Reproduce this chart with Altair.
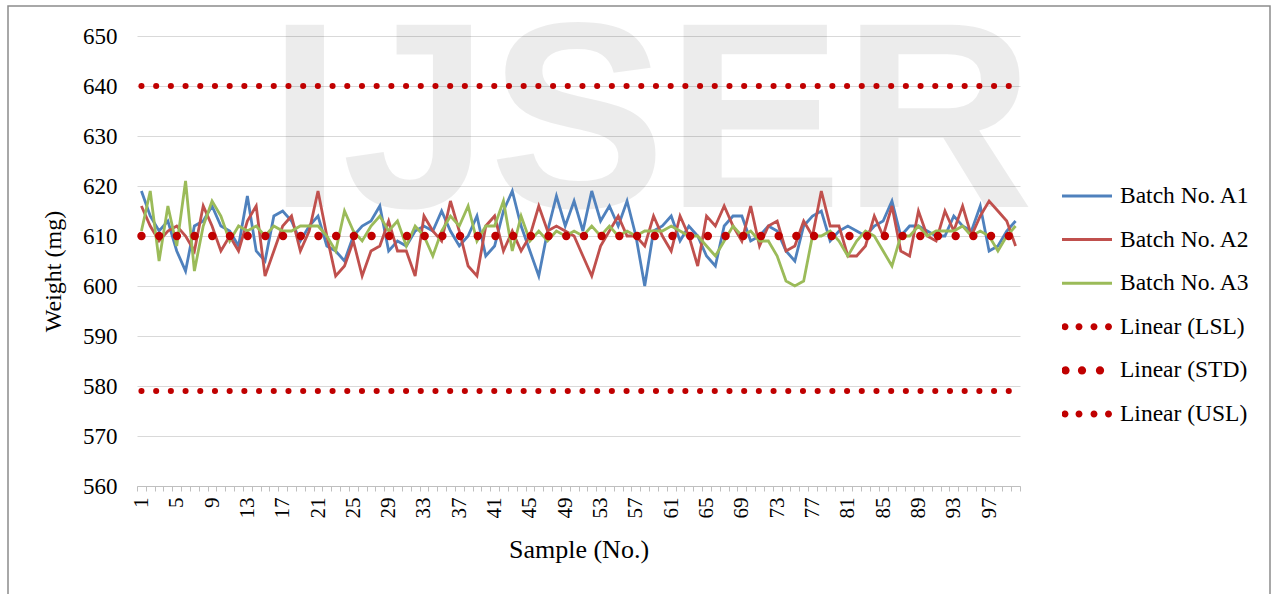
import altair as alt
import pandas as pd

samples = list(range(1, 101))

a1 = [619, 614, 611, 613, 607, 603, 612, 613, 616, 612,
      611, 608, 618, 607, 605, 614, 615, 613, 609, 612,
      614, 608, 607, 605, 610, 612, 613, 616, 607, 609,
      608, 611, 612, 611, 615, 611, 608, 610, 614, 606,
      608, 615, 619, 612, 607, 602, 611, 618, 612, 617,
      611, 619, 613, 616, 612, 617, 610, 600, 611, 612,
      614, 609, 612, 610, 606, 604, 612, 614, 614, 609,
      610, 612, 611, 607, 605, 612, 614, 615, 609, 611,
      612, 611, 610, 612, 613, 617, 610, 612, 612, 611,
      610, 610, 614, 612, 611, 616, 607, 608, 611, 613]

a2 = [616, 612, 609, 611, 612, 610, 607, 616, 612, 607,
      610, 607, 613, 616, 602, 607, 612, 614, 607, 611,
      619, 610, 602, 604, 609, 602, 607, 608, 613, 607,
      607, 602, 614, 611, 609, 617, 611, 604, 602, 612,
      614, 607, 611, 607, 610, 616, 611, 612, 611, 610,
      606, 602, 608, 611, 614, 610, 610, 608, 614, 610,
      607, 614, 610, 604, 614, 612, 616, 612, 609, 616,
      608, 612, 613, 607, 608, 613, 610, 619, 612, 612,
      606, 606, 608, 614, 610, 616, 607, 606, 615, 610,
      609, 615, 611, 616, 610, 614, 617, 615, 613, 608]

a3 = [611, 619, 605, 616, 608, 621, 603, 612, 617, 614,
      609, 612, 611, 612, 610, 612, 611, 611, 612, 612,
      612, 610, 607, 615, 611, 609, 612, 614, 611, 613,
      608, 612, 610, 606, 611, 614, 612, 616, 609, 612,
      612, 617, 607, 614, 609, 611, 609, 611, 610, 611,
      610, 612, 610, 612, 610, 611, 610, 611, 611, 611,
      612, 611, 610, 610, 608, 606, 609, 612, 610, 611,
      609, 609, 606, 601, 600, 601, 610, 610, 611, 609,
      606, 609, 611, 610, 607, 604, 610, 610, 612, 610,
      611, 611, 611, 612, 610, 611, 610, 607, 610, 612]

lsl = 579
std = 610
usl = 640

series_names = ["Batch No. A1", "Batch No. A2", "Batch No. A3",
                "Linear (LSL)", "Linear (STD)", "Linear (USL)"]
series_colors = ["#4F81BD", "#C0504D", "#9BBB59", "#C00000", "#C00000", "#C00000"]

FONT = "Liberation Serif"


def dots_path(xs, r):
    parts = []
    for x in xs:
        parts.append(f"M{x - r:.3f},0a{r},{r} 0 1,0 {2 * r:.3f},0a{r},{r} 0 1,0 {-2 * r:.3f},0Z")
    return " ".join(parts)


line_path = "M-1,-0.06H1V0.06H-1Z"
lsl_path = dots_path([-0.88, -0.32, 0.28, 0.86], 0.14)
std_path = dots_path([-0.86, -0.2, 0.52], 0.165)
series_shapes = [line_path, line_path, line_path, lsl_path, std_path, lsl_path]


def series_df(name, values):
    return pd.DataFrame({"Sample": samples, "Weight": values, "Series": [name] * len(samples)})


df_a1 = series_df(series_names[0], a1)
df_a2 = series_df(series_names[1], a2)
df_a3 = series_df(series_names[2], a3)
df_lsl = series_df(series_names[3], [lsl] * len(samples))
df_std = series_df(series_names[4], [std] * len(samples))
df_usl = series_df(series_names[5], [usl] * len(samples))
legend_df = pd.concat([df_a1, df_a2, df_a3, df_lsl, df_std, df_usl], ignore_index=True)

x_enc = alt.X(
    "Sample:O",
    bandPosition=0.5,
    scale=alt.Scale(type="band", domain=samples, paddingInner=0, paddingOuter=0),
    axis=alt.Axis(
        title="Sample (No.)",
        titleFont=FONT, titleFontSize=26, titleFontWeight="normal", titleColor="black",
        titlePadding=18,
        labelFont=FONT, labelFontSize=21, labelColor="black", labelAngle=270,
        labelExpr="(datum.value - 1) % 4 == 0 ? datum.label : ''",
        labelOverlap=False, labelPadding=6,
        tickBand="extent", tickSize=5, tickColor="#bfbfbf",
        domainColor="#bfbfbf", domainWidth=1, grid=False,
    ),
)
y_enc = alt.Y(
    "Weight:Q",
    scale=alt.Scale(domain=[560, 650], nice=False, zero=False),
    axis=alt.Axis(
        title="Weight (mg)", values=list(range(560, 651, 10)),
        titleFont=FONT, titleFontSize=24, titleFontWeight="normal", titleColor="black",
        titlePadding=17, titleY=235,
        labelFont=FONT, labelFontSize=23, labelColor="black", labelPadding=20,
        domain=False, ticks=False, tickSize=0,
        grid=True, gridColor="#d9d9d9", gridWidth=1,
    ),
)

color_scale = alt.Scale(domain=series_names, range=series_colors)
shape_scale = alt.Scale(domain=series_names, range=series_shapes)

legend = alt.Legend(
    orient="none", legendX=925, legendY=149, title=None,
    labelFont=FONT, labelFontSize=23.5, labelColor="black", labelOffset=8,
    symbolSize=2500, symbolOpacity=1, symbolStrokeWidth=0,
    clipHeight=22, rowPadding=19.6,
)

watermark = alt.Chart(pd.DataFrame({"t": ["IJSER"]})).mark_text(
    font="Liberation Sans", fontSize=265, fontWeight="bold",
    fill="#000000", fillOpacity=0.075,
    align="center", baseline="alphabetic",
).encode(text="t:N", x=alt.value(514), y=alt.value(171))

frame = alt.Chart(pd.DataFrame({"t": [0]})).mark_rect(
    fillOpacity=0, stroke="#8c8c8c", strokeWidth=1.5,
).encode(x=alt.value(-129), x2=alt.value(1133), y=alt.value(-30), y2=alt.value(575))


def batch_layer(df, color):
    return alt.Chart(df).mark_line(strokeWidth=2.8, color=color).encode(x=x_enc, y=y_enc)


def limit_layer(df, width, dash):
    return alt.Chart(df).mark_line(
        strokeWidth=width, strokeCap="round", strokeDash=dash, color="#C00000",
    ).encode(x=x_enc, y=y_enc)


legend_layer = alt.Chart(legend_df).transform_filter("false").mark_point(
    filled=True,
).encode(
    x=x_enc, y=y_enc,
    color=alt.Color("Series:N", scale=color_scale, legend=legend),
    shape=alt.Shape("Series:N", scale=shape_scale, legend=legend),
)

chart = alt.layer(
    watermark, frame,
    batch_layer(df_a1, series_colors[0]),
    batch_layer(df_a2, series_colors[1]),
    batch_layer(df_a3, series_colors[2]),
    limit_layer(df_lsl, 6, [0.1, 14.6]),
    limit_layer(df_usl, 6, [0.1, 14.6]),
    limit_layer(df_std, 8.3, [0.1, 17.6]),
    legend_layer,
).properties(
    width=883, height=450,
    autosize=alt.AutoSizeParams(type="none"),
    padding={"left": 137, "top": 36, "right": 258, "bottom": 108},
    background="white",
).configure_view(stroke=None)

chart.save("out.html", embed_options={"renderer": "svg", "actions": False})
